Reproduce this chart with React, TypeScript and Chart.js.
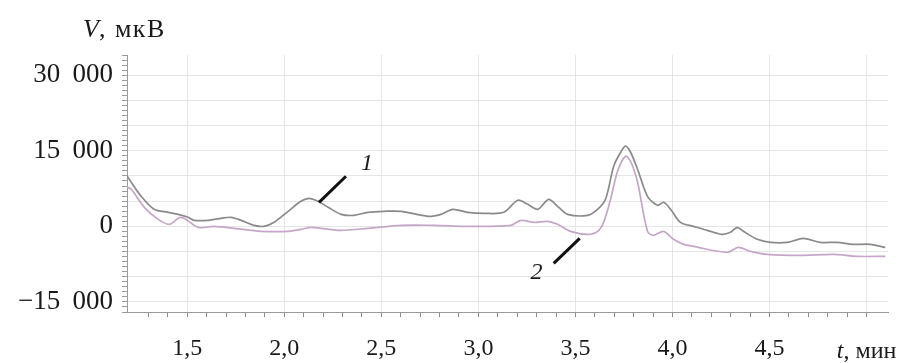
import React, { useEffect, useRef } from "react";
import { Chart, registerables } from "chart.js";

Chart.register(...registerables);

// Curve 1 (grey, upper)
const T1 = [1.19, 1.263, 1.33, 1.402, 1.454, 1.505, 1.536, 1.608, 1.675, 1.726, 1.778, 1.845, 1.896, 1.948, 2.02, 2.086, 2.128, 2.174, 2.226, 2.293, 2.359, 2.431, 2.513, 2.601, 2.74, 2.807, 2.868, 2.945, 3.028, 3.131, 3.203, 3.254, 3.306, 3.362, 3.408, 3.46, 3.563, 3.614, 3.655, 3.697, 3.733, 3.758, 3.784, 3.82, 3.871, 3.923, 3.954, 3.99, 4.041, 4.108, 4.195, 4.257, 4.298, 4.334, 4.365, 4.437, 4.504, 4.592, 4.674, 4.761, 4.849, 4.931, 5.019, 5.096];
const V1 = [10000, 5960, 3380, 2780, 2380, 1790, 1190, 1190, 1590, 1790, 1190, 200, 0, 795, 2980, 4970, 5560, 4970, 3775, 2385, 2185, 2780, 2980, 2980, 1990, 2385, 3380, 2780, 2585, 2780, 5165, 4370, 3380, 5365, 3975, 2385, 2185, 3380, 5365, 11920, 14700, 15900, 14700, 11325, 5960, 4170, 4770, 3380, 795, 0, -995, -1590, -1190, -200, -995, -2580, -3180, -3180, -2385, -3180, -3180, -3575, -3575, -4170];

// Curve 2 (lilac, lower)
const T2 = [1.19, 1.212, 1.279, 1.351, 1.407, 1.469, 1.557, 1.639, 1.742, 1.881, 2.02, 2.086, 2.138, 2.189, 2.292, 2.431, 2.601, 2.771, 2.945, 3.167, 3.218, 3.285, 3.357, 3.408, 3.475, 3.563, 3.614, 3.645, 3.681, 3.717, 3.758, 3.784, 3.82, 3.871, 3.902, 3.954, 4.005, 4.057, 4.108, 4.283, 4.339, 4.401, 4.488, 4.658, 4.828, 4.952, 5.096];
const V2 = [7800, 7350, 3775, 1390, 400, 1790, -200, 0, -400, -995, -995, -600, -200, -400, -795, -400, 200, 200, 0, 200, 1190, 795, 995, 400, -995, -1590, -995, 795, 5365, 10930, 13900, 12915, 8740, -995, -1790, -995, -2580, -3575, -3975, -5165, -4170, -4970, -5565, -5760, -5565, -5960, -5960];

const X_MIN = 1.19;
const X_MAX = 5.11;
const Y_MIN = -17000;
const Y_MAX = 34000;
const X_STEP = 0.1;
const Y_STEP = 1000;
const X_LABEL_TICKS = [1.5, 2.0, 2.5, 3.0, 3.5, 4.0, 4.5];
const X_GRID_STEP = 0.5;
const Y_LABEL_TICKS = [30000, 15000, 0, -15000];
const Y_GRID_STEP = 5000;
const X_TITLE_AT = 5.0;
const Y_TITLE = ["V", ", мкВ"];
const X_TITLE = ["t", ", мин"];

// annotation labels: text position and leader line, in data units (t, V)
const ANN_TEXT = ["1", "2"];
const ANN_TEXT_T = [2.426, 3.3];
const ANN_TEXT_V = [12520, -9140];
const ANN_LINE_T0 = [2.318, 3.388];
const ANN_LINE_V0 = [9935, -7350];
const ANN_LINE_T1 = [2.179, 3.522];
const ANN_LINE_V1 = [4770, -2385];

const FONT = "'Liberation Serif', 'Times New Roman', serif";

const isMult = (v: number, s: number) => Math.abs(v / s - Math.round(v / s)) < 1e-6;
const inList = (v: number, list: number[]) => list.some((l) => Math.abs(l - v) < 1e-6);

const fmtY = (v: number) => {
  const a = Math.abs(Math.round(v));
  const s = a.toString().replace(/\B(?=(\d{3})+(?!\d))/g, " \u2009");
  return (v < 0 ? "\u2212" : "") + s;
};

const textPlugin = {
  id: "textPlugin",
  afterDraw(chart: any) {
    const ctx = chart.ctx;
    const xs = chart.scales.x;
    const ys = chart.scales.y;
    const ca = chart.chartArea;
    ctx.save();
    ctx.fillStyle = "#1a1a1a";
    ctx.textBaseline = "alphabetic";
    ctx.textAlign = "left";
    // y title
    let x = ca.left - 44;
    const yb = ca.top - 18;
    ctx.font = `italic 26px ${FONT}`;
    ctx.fillText(Y_TITLE[0], x, yb);
    x += ctx.measureText(Y_TITLE[0]).width;
    ctx.font = `26px ${FONT}`;
    if ("letterSpacing" in ctx) (ctx as any).letterSpacing = "1.5px";
    ctx.fillText(Y_TITLE[1], x, yb);
    if ("letterSpacing" in ctx) (ctx as any).letterSpacing = "0px";
    // x title
    ctx.font = `italic 24px ${FONT}`;
    const w0 = ctx.measureText(X_TITLE[0]).width;
    ctx.font = `24px ${FONT}`;
    const w1 = ctx.measureText(X_TITLE[1]).width;
    const xt = xs.getPixelForValue(X_TITLE_AT) - (w0 + w1) / 2;
    const xb = ca.bottom + 46;
    ctx.font = `italic 24px ${FONT}`;
    ctx.fillText(X_TITLE[0], xt, xb);
    ctx.font = `24px ${FONT}`;
    ctx.fillText(X_TITLE[1], xt + w0, xb);
    // annotations
    ctx.strokeStyle = "#111";
    ctx.lineWidth = 3;
    ctx.lineCap = "butt";
    for (let i = 0; i < ANN_TEXT.length; i++) {
      ctx.beginPath();
      ctx.moveTo(xs.getPixelForValue(ANN_LINE_T0[i]), ys.getPixelForValue(ANN_LINE_V0[i]));
      ctx.lineTo(xs.getPixelForValue(ANN_LINE_T1[i]), ys.getPixelForValue(ANN_LINE_V1[i]));
      ctx.stroke();
      ctx.font = `italic 24px ${FONT}`;
      ctx.textAlign = "center";
      ctx.textBaseline = "middle";
      ctx.fillText(ANN_TEXT[i], xs.getPixelForValue(ANN_TEXT_T[i]), ys.getPixelForValue(ANN_TEXT_V[i]));
    }
    ctx.restore();
  },
};

export default function App() {
  const ref = useRef<HTMLCanvasElement | null>(null);
  useEffect(() => {
    if (!ref.current) return;
    const d1 = T1.map((t, i) => ({ x: t, y: V1[i] }));
    const d2 = T2.map((t, i) => ({ x: t, y: V2[i] }));
    const chart = new Chart(ref.current, {
      type: "line",
      data: {
        datasets: [
          { data: d2, borderColor: "#c6a6c8", borderWidth: 1.7, pointRadius: 0, tension: 0.3, fill: false },
          { data: d1, borderColor: "#8a8a8a", borderWidth: 1.7, pointRadius: 0, tension: 0.3, fill: false },
        ],
      },
      options: {
        animation: false,
        responsive: false,
        devicePixelRatio: 1,
        layout: { padding: { top: 55, right: 25, left: 0, bottom: 0 } },
        plugins: { legend: { display: false }, tooltip: { enabled: false } },
        scales: {
          x: {
            type: "linear",
            min: X_MIN,
            max: X_MAX,
            afterFit: (s: any) => { s.height = 51; },
            border: { display: true, color: "#9a9a9a", width: 1 },
            grid: {
              drawTicks: true,
              tickLength: 5,
              tickWidth: 1,
              lineWidth: 1,
              color: (c: any) => (c.tick && isMult(c.tick.value, X_GRID_STEP) ? "#e6e6e6" : "rgba(0,0,0,0)"),
              tickColor: (c: any) => (c.tick && isMult(c.tick.value, X_STEP) ? "#8a8a8a" : "rgba(0,0,0,0)"),
            },
            ticks: {
              stepSize: X_STEP,
              autoSkip: false,
              maxRotation: 0,
              minRotation: 0,
              padding: 17,
              color: "#1a1a1a",
              font: { family: FONT, size: 24 },
              callback: (v: any) => (inList(Number(v), X_LABEL_TICKS) ? Number(v).toFixed(1).replace(".", ",") : ""),
            },
          },
          y: {
            type: "linear",
            min: Y_MIN,
            max: Y_MAX,
            afterFit: (s: any) => { s.width = 127; },
            border: { display: true, color: "#9a9a9a", width: 1 },
            grid: {
              drawTicks: true,
              tickLength: 5,
              tickWidth: 1,
              lineWidth: 1,
              color: (c: any) => (c.tick && isMult(c.tick.value, Y_GRID_STEP) ? "#e6e6e6" : "rgba(0,0,0,0)"),
              tickColor: (c: any) => (c.tick && isMult(c.tick.value, Y_STEP) ? "#9a9a9a" : "rgba(0,0,0,0)"),
            },
            ticks: {
              stepSize: Y_STEP,
              autoSkip: false,
              padding: 9,
              color: "#1a1a1a",
              font: { family: FONT, size: 27 },
              callback: (v: any) => (inList(Number(v), Y_LABEL_TICKS) ? fmtY(Number(v)) : ""),
            },
          },
        },
      },
      plugins: [textPlugin],
    });
    return () => chart.destroy();
  }, []);
  return (
    <div style={{ position: "fixed", left: 0, top: 0, width: 913, height: 363, background: "#fff" }}>
      <canvas ref={ref} width={913} height={363} style={{ display: "block" }} />
    </div>
  );
}
